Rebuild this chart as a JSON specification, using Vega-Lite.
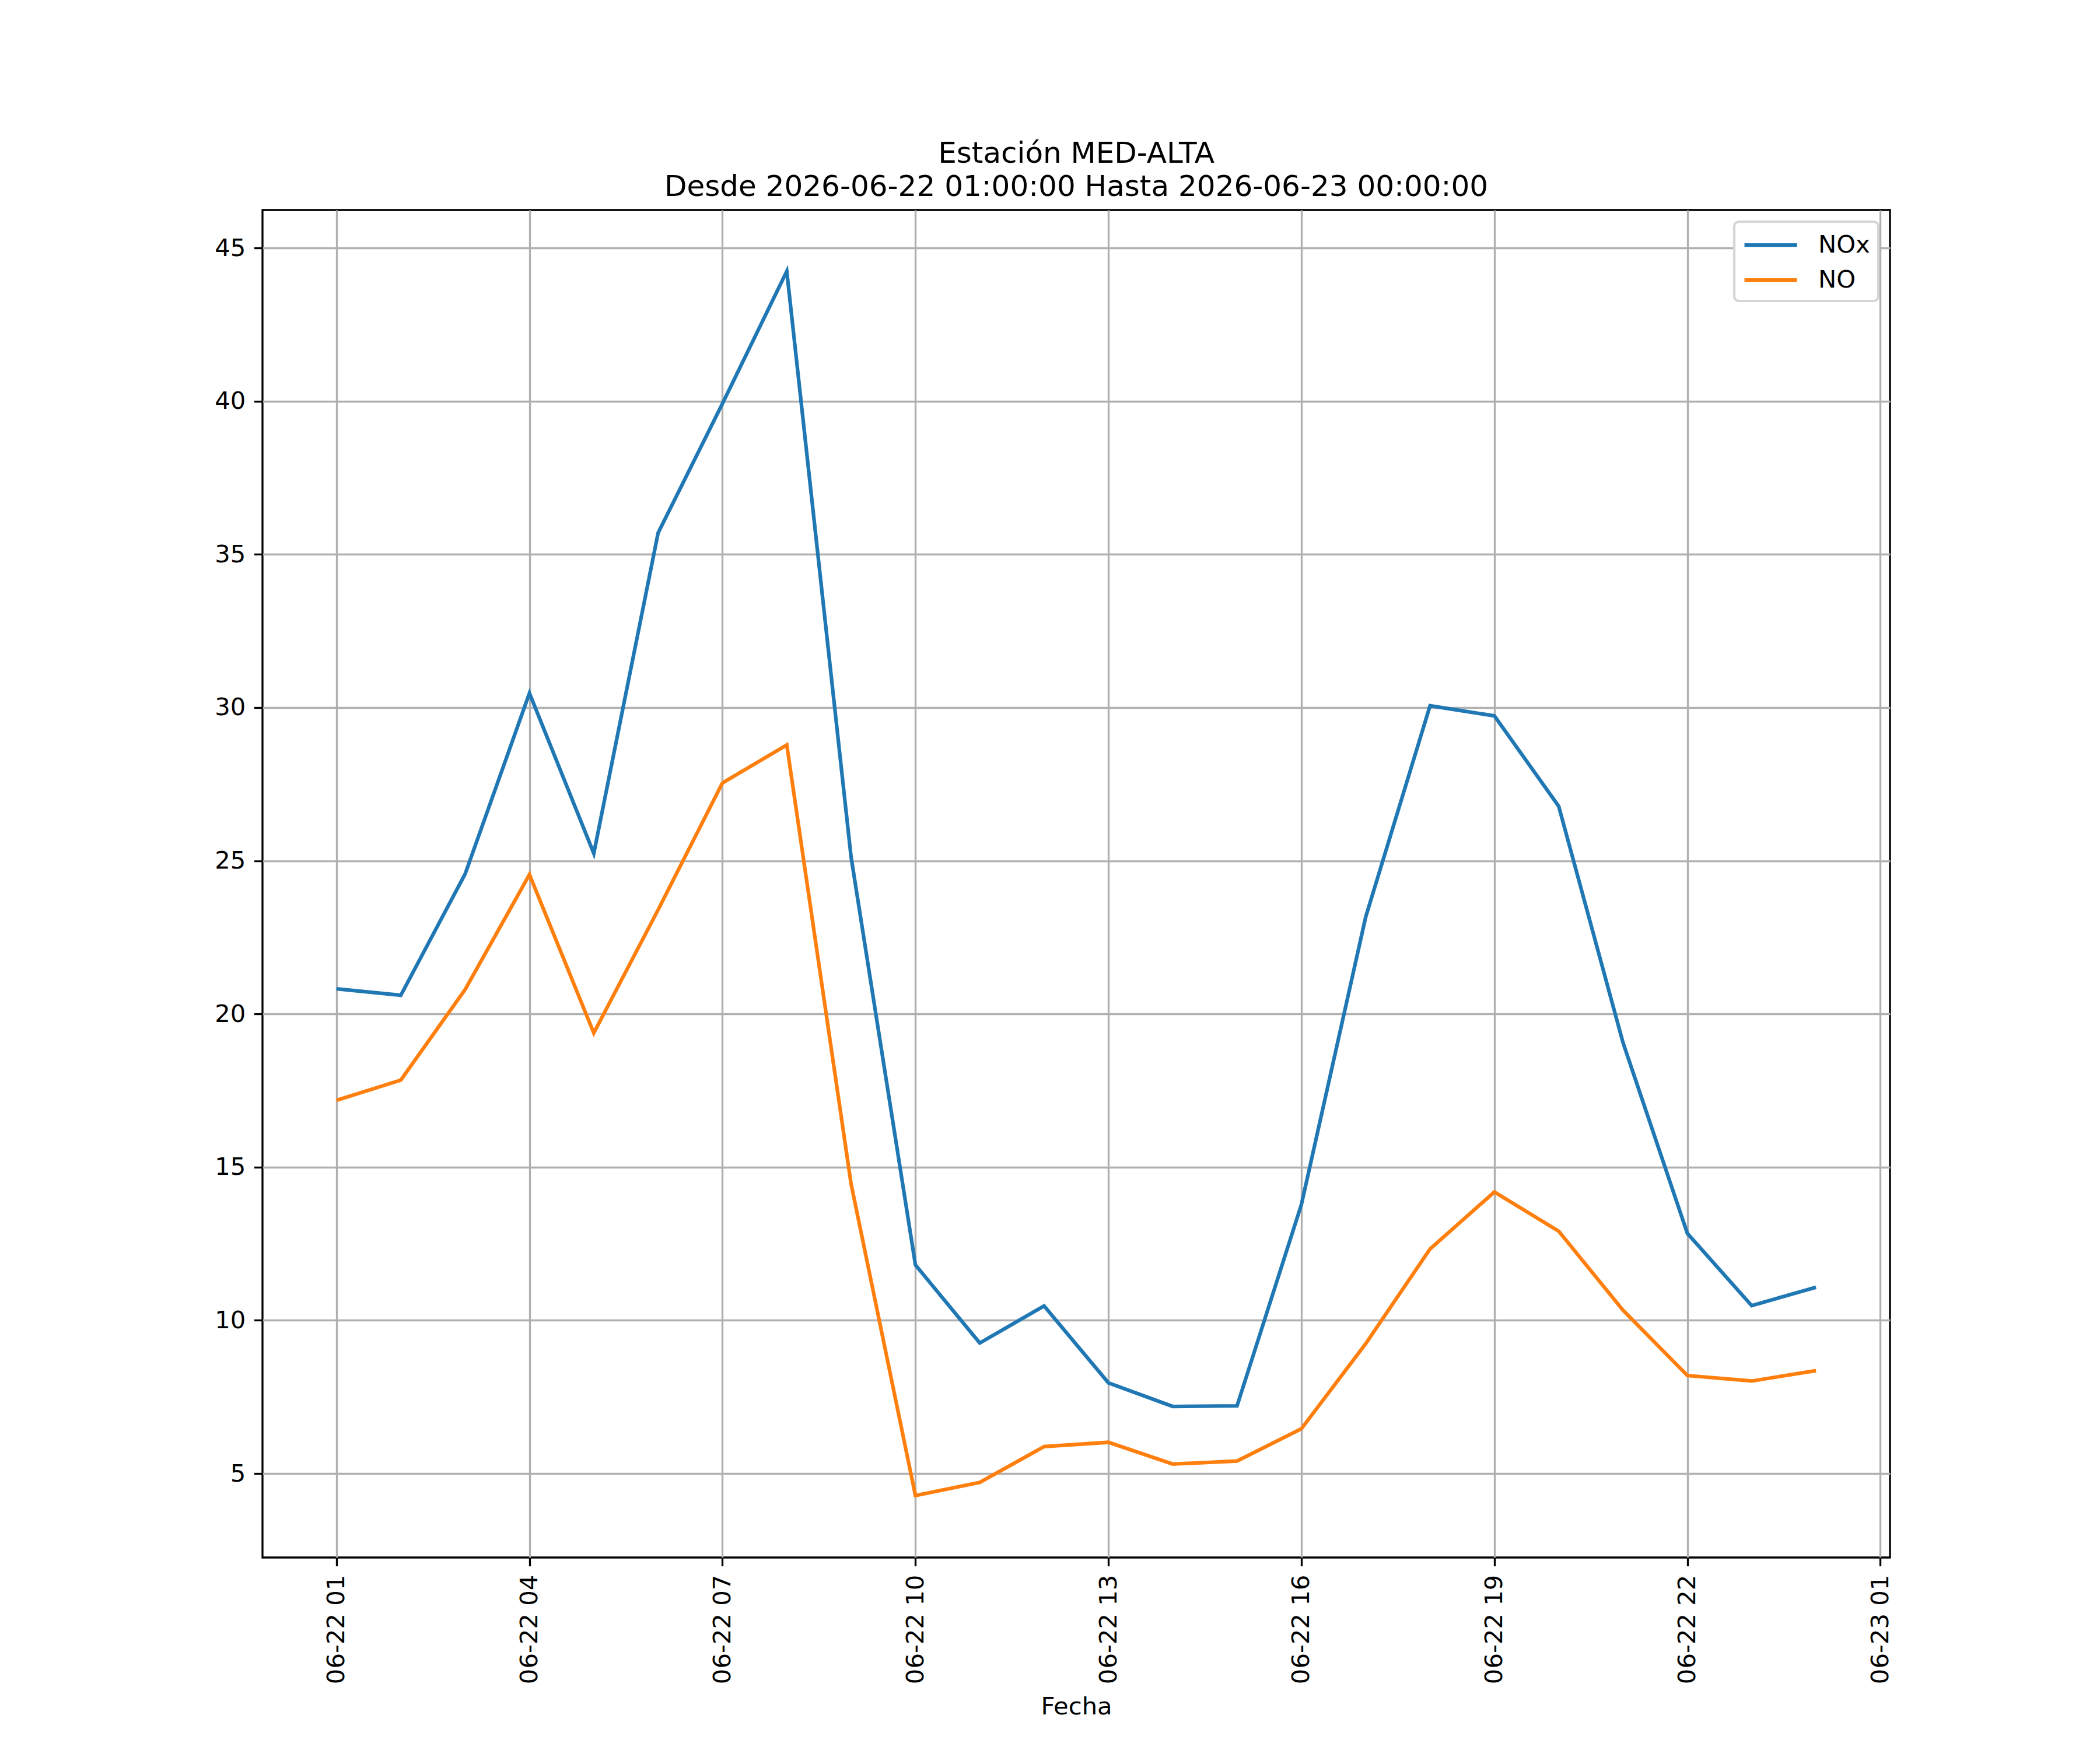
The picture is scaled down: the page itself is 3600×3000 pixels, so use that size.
{
  "$schema": "https://vega.github.io/schema/vega-lite/v6.json",
  "width": 2790,
  "height": 2310,
  "autosize": {"type": "none"},
  "padding": {"left": 450, "top": 360, "right": 360, "bottom": 330},
  "background": "white",
  "config": {
    "font": "DejaVu Sans",
    "view": {"stroke": "black", "strokeWidth": 3.33},
    "axis": {
      "domain": false,
      "grid": true,
      "gridColor": "#b0b0b0",
      "gridWidth": 3.33,
      "tickColor": "black",
      "tickWidth": 3.33,
      "tickSize": 14.6,
      "labelPadding": 14.6,
      "labelFont": "DejaVu Sans",
      "labelFontSize": 41.7,
      "labelColor": "black",
      "labelLimit": 0,
      "titleFont": "DejaVu Sans",
      "titleFontSize": 41.7,
      "titleFontWeight": "normal",
      "titleColor": "black"
    },
    "legend": {
      "strokeColor": "#d6d6d6",
      "strokeWidth": 4.17,
      "fillColor": "white",
      "cornerRadius": 8
    }
  },
  "title": {
    "text": ["Estación MED-ALTA", "Desde 2026-06-22 01:00:00 Hasta 2026-06-23 00:00:00"],
    "font": "DejaVu Sans",
    "fontSize": 50,
    "fontWeight": "normal",
    "color": "black",
    "anchor": "middle",
    "frame": "group",
    "baseline": "alphabetic",
    "lineHeight": 57,
    "offset": -26
  },
  "data": {
    "values": [
      {"fecha": "2026-06-22T01:00:00", "serie": "NOx", "valor": 20.82},
      {"fecha": "2026-06-22T02:00:00", "serie": "NOx", "valor": 20.61},
      {"fecha": "2026-06-22T03:00:00", "serie": "NOx", "valor": 24.57},
      {"fecha": "2026-06-22T04:00:00", "serie": "NOx", "valor": 30.47},
      {"fecha": "2026-06-22T05:00:00", "serie": "NOx", "valor": 25.24},
      {"fecha": "2026-06-22T06:00:00", "serie": "NOx", "valor": 35.70},
      {"fecha": "2026-06-22T07:00:00", "serie": "NOx", "valor": 39.92},
      {"fecha": "2026-06-22T08:00:00", "serie": "NOx", "valor": 44.24},
      {"fecha": "2026-06-22T09:00:00", "serie": "NOx", "valor": 25.12},
      {"fecha": "2026-06-22T10:00:00", "serie": "NOx", "valor": 11.81},
      {"fecha": "2026-06-22T11:00:00", "serie": "NOx", "valor": 9.26},
      {"fecha": "2026-06-22T12:00:00", "serie": "NOx", "valor": 10.47},
      {"fecha": "2026-06-22T13:00:00", "serie": "NOx", "valor": 7.96},
      {"fecha": "2026-06-22T14:00:00", "serie": "NOx", "valor": 7.19},
      {"fecha": "2026-06-22T15:00:00", "serie": "NOx", "valor": 7.21},
      {"fecha": "2026-06-22T16:00:00", "serie": "NOx", "valor": 13.78},
      {"fecha": "2026-06-22T17:00:00", "serie": "NOx", "valor": 23.17},
      {"fecha": "2026-06-22T18:00:00", "serie": "NOx", "valor": 30.06},
      {"fecha": "2026-06-22T19:00:00", "serie": "NOx", "valor": 29.73},
      {"fecha": "2026-06-22T20:00:00", "serie": "NOx", "valor": 26.78},
      {"fecha": "2026-06-22T21:00:00", "serie": "NOx", "valor": 19.06},
      {"fecha": "2026-06-22T22:00:00", "serie": "NOx", "valor": 12.84},
      {"fecha": "2026-06-22T23:00:00", "serie": "NOx", "valor": 10.48},
      {"fecha": "2026-06-23T00:00:00", "serie": "NOx", "valor": 11.08},
      {"fecha": "2026-06-22T01:00:00", "serie": "NO", "valor": 17.18},
      {"fecha": "2026-06-22T02:00:00", "serie": "NO", "valor": 17.84},
      {"fecha": "2026-06-22T03:00:00", "serie": "NO", "valor": 20.80},
      {"fecha": "2026-06-22T04:00:00", "serie": "NO", "valor": 24.55},
      {"fecha": "2026-06-22T05:00:00", "serie": "NO", "valor": 19.38},
      {"fecha": "2026-06-22T06:00:00", "serie": "NO", "valor": 23.40},
      {"fecha": "2026-06-22T07:00:00", "serie": "NO", "valor": 27.54},
      {"fecha": "2026-06-22T08:00:00", "serie": "NO", "valor": 28.78},
      {"fecha": "2026-06-22T09:00:00", "serie": "NO", "valor": 14.45},
      {"fecha": "2026-06-22T10:00:00", "serie": "NO", "valor": 4.28},
      {"fecha": "2026-06-22T11:00:00", "serie": "NO", "valor": 4.71},
      {"fecha": "2026-06-22T12:00:00", "serie": "NO", "valor": 5.88},
      {"fecha": "2026-06-22T13:00:00", "serie": "NO", "valor": 6.02},
      {"fecha": "2026-06-22T14:00:00", "serie": "NO", "valor": 5.31},
      {"fecha": "2026-06-22T15:00:00", "serie": "NO", "valor": 5.41},
      {"fecha": "2026-06-22T16:00:00", "serie": "NO", "valor": 6.46},
      {"fecha": "2026-06-22T17:00:00", "serie": "NO", "valor": 9.24},
      {"fecha": "2026-06-22T18:00:00", "serie": "NO", "valor": 12.33},
      {"fecha": "2026-06-22T19:00:00", "serie": "NO", "valor": 14.19},
      {"fecha": "2026-06-22T20:00:00", "serie": "NO", "valor": 12.91},
      {"fecha": "2026-06-22T21:00:00", "serie": "NO", "valor": 10.33},
      {"fecha": "2026-06-22T22:00:00", "serie": "NO", "valor": 8.20},
      {"fecha": "2026-06-22T23:00:00", "serie": "NO", "valor": 8.02},
      {"fecha": "2026-06-23T00:00:00", "serie": "NO", "valor": 8.36}
    ]
  },
  "mark": {"type": "line", "strokeWidth": 6.25, "clip": true},
  "encoding": {
    "x": {
      "field": "fecha",
      "type": "temporal",
      "title": "Fecha",
      "scale": {
        "domain": [
          {"year": 2026, "month": 6, "date": 21, "hours": 23, "minutes": 51},
          {"year": 2026, "month": 6, "date": 23, "hours": 1, "minutes": 9}
        ],
        "nice": false
      },
      "axis": {
        "values": [
          {"year": 2026, "month": 6, "date": 22, "hours": 1},
          {"year": 2026, "month": 6, "date": 22, "hours": 4},
          {"year": 2026, "month": 6, "date": 22, "hours": 7},
          {"year": 2026, "month": 6, "date": 22, "hours": 10},
          {"year": 2026, "month": 6, "date": 22, "hours": 13},
          {"year": 2026, "month": 6, "date": 22, "hours": 16},
          {"year": 2026, "month": 6, "date": 22, "hours": 19},
          {"year": 2026, "month": 6, "date": 22, "hours": 22},
          {"year": 2026, "month": 6, "date": 23, "hours": 1}
        ],
        "format": "%m-%d %H",
        "labelAngle": 270,
        "labelAlign": "right",
        "labelBaseline": "middle",
        "titlePadding": 35
      }
    },
    "y": {
      "field": "valor",
      "type": "quantitative",
      "title": null,
      "scale": {"domain": [2.26, 46.24], "nice": false, "zero": false},
      "axis": {"values": [5, 10, 15, 20, 25, 30, 35, 40, 45]}
    },
    "color": {
      "field": "serie",
      "type": "nominal",
      "scale": {"domain": ["NOx", "NO"], "range": ["#1f77b4", "#ff7f0e"]},
      "legend": {
        "title": null,
        "orient": "top-right",
        "offset": 20,
        "symbolType": "M-1,0H3",
        "symbolSize": 2025,
        "symbolStrokeWidth": 6.25,
        "labelFont": "DejaVu Sans",
        "labelFontSize": 41.7,
        "labelColor": "black",
        "labelOffset": 78,
        "rowPadding": 12,
        "padding": 14
      }
    }
  }
}
